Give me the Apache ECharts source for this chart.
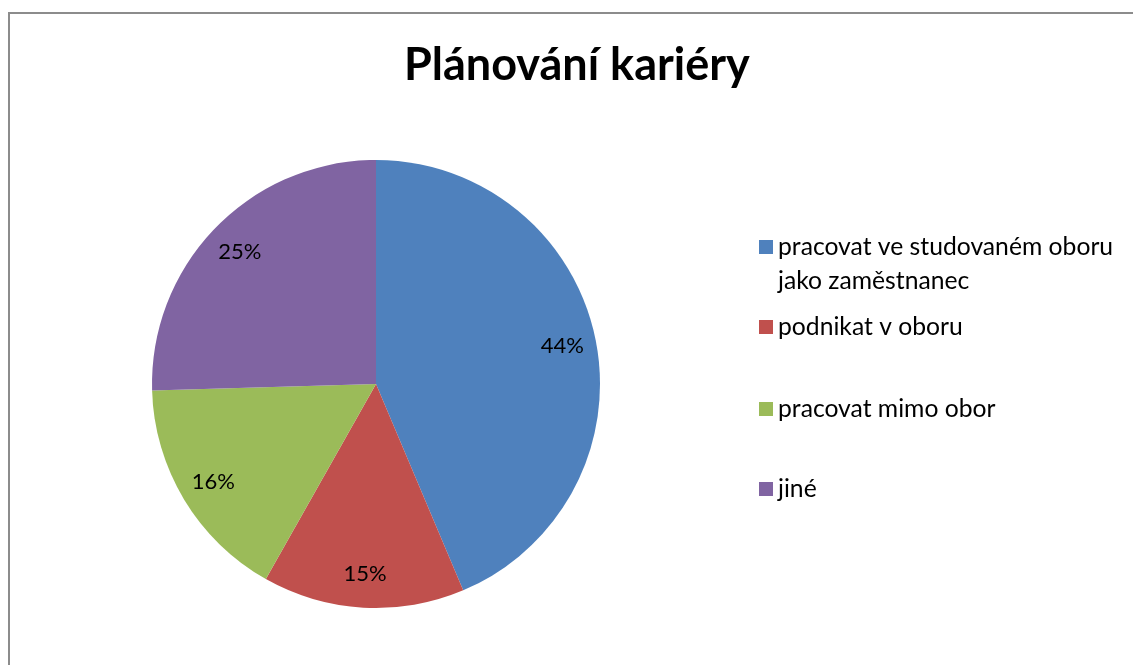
<!DOCTYPE html>
<html>
<head>
<meta charset="utf-8">
<script src="https://cdn.jsdelivr.net/npm/echarts@6/dist/echarts.min.js"></script>
<style>
  html, body { margin: 0; padding: 0; background: #fff; overflow: hidden; width: 1133px; height: 665px; }
  #frame {
    position: absolute; left: 8px; top: 12px; width: 1300px; height: 800px;
    border: 2px solid #8c8c8c; box-sizing: border-box;
  }
  #chart { position: absolute; left: 0; top: 0; width: 1133px; height: 665px; }
</style>
</head>
<body>
<div id="frame"></div>
<div id="chart"></div>
<script>
// data (answer counts, shown as percentages)
const categories = [
  'pracovat ve studovaném oboru\njako zaměstnanec',
  'podnikat v oboru',
  'pracovat mimo obor',
  'jiné'
];
const counts = [24, 8, 9, 14];
const colors = ['#4F81BD', '#C0504D', '#9BBB59', '#8064A2'];

const FONT = 'Lato';
const cx = 376, cy = 384, R = 224;

const pieData = categories.map((name, i) => ({ name, value: counts[i] }));

// one legend per item so the spacing can follow the original
const legendCenters = [247, 327, 409, 489];
const legends = categories.map((name, i) => {
  const twoLines = name.indexOf('\n') >= 0;
  return {
    data: [name],
    orient: 'vertical',
    left: 759,
    top: legendCenters[i] - (twoLines ? 51 : 17),
    padding: 0,
    itemWidth: 14,
    itemHeight: 14,
    icon: 'rect',
    selectedMode: false,
    // blank line on top so that the icon sits next to the first text line
    formatter: (n) => n.indexOf('\n') >= 0 ? ' \n' + n : n,
    textStyle: {
      fontFamily: FONT,
      fontSize: 24.7,
      color: '#000',
      lineHeight: 34
    }
  };
});

const chart = echarts.init(document.getElementById('chart'));
chart.setOption({
  animation: false,
  color: colors,
  title: {
    text: 'Plánování kariéry',
    left: 399,
    top: 38,
    textStyle: { fontFamily: FONT, fontWeight: 'bold', fontSize: 45, color: '#000' }
  },
  legend: legends,
  series: [
    {
      type: 'pie',
      center: [cx, cy],
      radius: [0, R],
      startAngle: 90,
      clockwise: true,
      label: { show: false },
      labelLine: { show: false },
      emphasis: { disabled: true },
      data: pieData
    },
    {
      // transparent ring only used to place the percentage labels
      type: 'pie',
      center: [cx, cy],
      radius: [150, R],
      startAngle: 90,
      clockwise: true,
      silent: true,
      itemStyle: { color: 'rgba(0,0,0,0)' },
      label: {
        show: true,
        position: 'inside',
        formatter: (p) => Math.round(p.percent) + '%',
        fontFamily: FONT,
        fontSize: 22,
        color: '#000'
      },
      labelLine: { show: false },
      emphasis: { disabled: true },
      data: pieData
    }
  ]
});
</script>
</body>
</html>
